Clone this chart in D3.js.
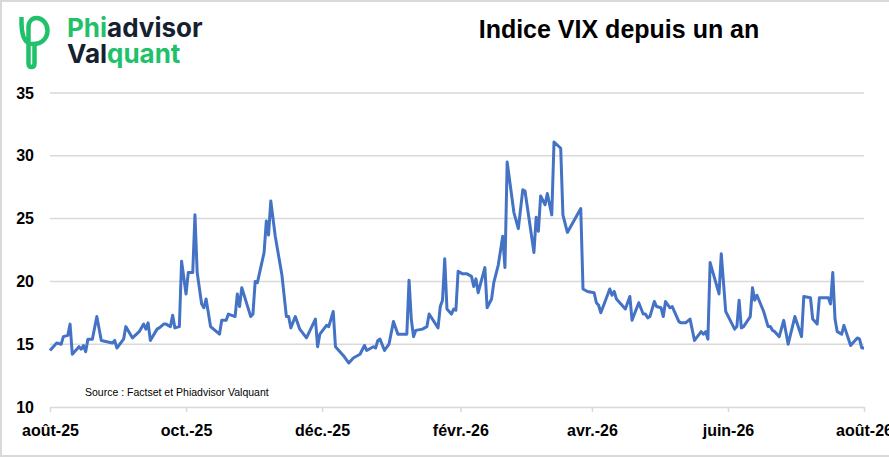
<!DOCTYPE html>
<html>
<head>
<meta charset="utf-8">
<script src="https://cdn.jsdelivr.net/npm/d3@7"></script>
<style>
    body { margin: 0; background: #fff; }
    svg { display: block; }
</style>
</head>
<body>
<script>
// daily VIX closes
const dates = [
    '2025-08-01', '2025-08-04', '2025-08-06', '2025-08-07', '2025-08-09', '2025-08-10', '2025-08-11', '2025-08-14', '2025-08-15', '2025-08-16',
    '2025-08-17', '2025-08-18', '2025-08-20', '2025-08-22', '2025-08-24', '2025-08-29', '2025-08-30', '2025-08-31', '2025-09-03', '2025-09-04',
    '2025-09-06', '2025-09-07', '2025-09-10', '2025-09-12', '2025-09-13', '2025-09-14', '2025-09-15', '2025-09-18', '2025-09-19', '2025-09-21',
    '2025-09-22', '2025-09-24', '2025-09-25', '2025-09-26', '2025-09-28', '2025-09-29', '2025-10-01', '2025-10-02', '2025-10-04', '2025-10-05',
    '2025-10-06', '2025-10-08', '2025-10-09', '2025-10-10', '2025-10-12', '2025-10-16', '2025-10-17', '2025-10-19', '2025-10-20', '2025-10-23',
    '2025-10-24', '2025-10-25', '2025-10-26', '2025-10-30', '2025-10-31', '2025-11-01', '2025-11-02', '2025-11-05', '2025-11-06', '2025-11-07',
    '2025-11-08', '2025-11-10', '2025-11-13', '2025-11-15', '2025-11-16', '2025-11-17', '2025-11-19', '2025-11-21', '2025-11-24', '2025-11-28',
    '2025-11-29', '2025-11-30', '2025-12-03', '2025-12-04', '2025-12-06', '2025-12-07', '2025-12-09', '2025-12-11', '2025-12-13', '2025-12-15',
    '2025-12-18', '2025-12-20', '2025-12-21', '2025-12-24', '2025-12-25', '2025-12-26', '2025-12-27', '2025-12-29', '2025-12-31', '2026-01-02',
    '2026-01-04', '2026-01-08', '2026-01-09', '2026-01-10', '2026-01-11', '2026-01-12', '2026-01-15', '2026-01-17', '2026-01-18', '2026-01-22',
    '2026-01-23', '2026-01-24', '2026-01-25', '2026-01-26', '2026-01-28', '2026-01-29', '2026-01-30', '2026-01-31', '2026-02-02', '2026-02-04',
    '2026-02-06', '2026-02-07', '2026-02-08', '2026-02-09', '2026-02-12', '2026-02-13', '2026-02-15', '2026-02-16', '2026-02-18', '2026-02-20',
    '2026-02-21', '2026-02-22', '2026-02-25', '2026-02-27', '2026-03-01', '2026-03-02', '2026-03-06', '2026-03-07', '2026-03-08', '2026-03-09',
    '2026-03-11', '2026-03-12', '2026-03-14', '2026-03-15', '2026-03-18', '2026-03-19', '2026-03-21', '2026-03-27', '2026-03-28', '2026-03-30',
    '2026-04-02', '2026-04-03', '2026-04-04', '2026-04-05', '2026-04-09', '2026-04-10', '2026-04-11', '2026-04-12', '2026-04-16', '2026-04-18',
    '2026-04-19', '2026-04-22', '2026-04-24', '2026-04-25', '2026-04-26', '2026-04-27', '2026-04-29', '2026-04-30', '2026-05-02', '2026-05-03',
    '2026-05-04', '2026-05-06', '2026-05-07', '2026-05-10', '2026-05-11', '2026-05-13', '2026-05-15', '2026-05-17', '2026-05-20', '2026-05-21',
    '2026-05-22', '2026-05-23', '2026-05-24', '2026-05-28', '2026-05-29', '2026-05-31', '2026-06-04', '2026-06-05', '2026-06-06', '2026-06-07',
    '2026-06-08', '2026-06-11', '2026-06-12', '2026-06-13', '2026-06-14', '2026-06-17', '2026-06-19', '2026-06-20', '2026-06-21', '2026-06-22',
    '2026-06-24', '2026-06-26', '2026-06-28', '2026-07-01', '2026-07-04', '2026-07-05', '2026-07-08', '2026-07-09', '2026-07-11', '2026-07-12',
    '2026-07-16', '2026-07-17', '2026-07-18', '2026-07-19', '2026-07-20', '2026-07-22', '2026-07-23', '2026-07-26', '2026-07-29', '2026-07-30',
    '2026-07-31', '2026-08-01'
];

const vix = [
    14.5, 15.1, 15.0, 15.6, 15.7, 16.6, 14.2, 14.8, 14.6, 14.9,
    14.4, 15.4, 15.4, 17.2, 15.3, 15.1, 15.3, 14.7, 15.4, 16.4,
    15.8, 15.5, 16.0, 16.6, 16.2, 16.7, 15.3, 16.2, 16.3, 16.6,
    16.6, 16.4, 17.3, 16.3, 16.4, 21.6, 19.0, 20.7, 20.7, 25.3,
    20.7, 18.2, 17.9, 18.6, 16.4, 15.8, 16.9, 16.9, 17.4, 17.2,
    19.0, 18.0, 19.5, 17.2, 17.4, 20.0, 19.9, 22.3, 24.8, 23.7,
    26.4, 23.6, 20.5, 17.2, 17.2, 16.3, 17.2, 16.2, 15.5, 17.0,
    14.8, 15.8, 16.5, 16.4, 17.6, 14.8, 14.4, 14.0, 13.5, 13.9,
    14.2, 14.9, 14.5, 14.8, 14.7, 15.3, 15.4, 14.5, 15.0, 16.8,
    15.8, 15.8, 20.1, 17.0, 15.6, 16.1, 16.2, 16.4, 17.4, 16.3,
    18.0, 18.5, 21.8, 17.8, 17.4, 17.8, 17.7, 20.8, 20.6, 20.6,
    20.4, 19.6, 20.2, 19.1, 21.1, 17.9, 18.6, 19.9, 21.3, 23.6,
    21.1, 29.5, 25.5, 24.2, 27.3, 27.2, 22.3, 25.1, 24.0, 26.8,
    26.1, 27.0, 25.3, 31.1, 30.6, 25.3, 23.9, 25.8, 19.4, 19.2,
    19.1, 18.3, 18.1, 17.5, 19.4, 18.9, 19.2, 18.6, 17.8, 18.8,
    16.9, 18.3, 17.4, 17.4, 17.1, 17.2, 18.4, 18.0, 17.9, 17.2,
    18.4, 17.9, 18.0, 16.8, 16.7, 16.7, 17.0, 15.3, 16.0, 15.8,
    16.0, 15.4, 21.5, 19.0, 22.2, 17.6, 16.2, 16.4, 18.5, 16.3,
    16.4, 17.2, 19.5, 18.5, 18.9, 17.6, 16.4, 16.4, 16.1, 16.0,
    15.6, 16.9, 15.0, 17.2, 15.6, 18.8, 18.7, 17.0, 16.6, 18.7,
    18.7, 18.2, 20.7, 17.0, 16.0, 15.8, 16.5, 14.9, 15.5, 15.4,
    14.7, 14.7
];

const tickDates = ['2025-08-01', '2025-10-01', '2025-12-01', '2026-02-01', '2026-04-01', '2026-06-01', '2026-08-01'];
const tickLabels = ['août-25', 'oct.-25', 'déc.-25', 'févr.-26', 'avr.-26', 'juin-26', 'août-26'];
const yTicks = [10, 15, 20, 25, 30, 35];

const width = 889;
const height = 457;
const marginTop = 93;
const marginLeft = 50;
const plotRight = 864;
const plotBottom = 407;

const parse = d3.utcParse('%Y-%m-%d');
const data = dates.map((d, i) => ({ date: parse(d), value: vix[i] }));

const svg = d3.select('body').append('svg')
    .attr('width', width)
    .attr('height', height);

// outer frame
svg.append('rect')
    .attr('x', 1)
    .attr('y', 1)
    .attr('width', width + 4)
    .attr('height', height - 2)
    .attr('fill', '#fff')
    .attr('stroke', '#d9d9d9')
    .attr('stroke-width', 2);

const x = d3.scaleUtc()
    .domain([parse(tickDates[0]), parse(tickDates[tickDates.length - 1])])
    .range([marginLeft, plotRight]);

const y = d3.scaleLinear()
    .domain([10, 35])
    .range([plotBottom, marginTop]);

// horizontal gridlines
svg.selectAll('line.grid')
    .data(yTicks.filter(d => d > 10))
    .enter()
    .append('line')
    .attr('class', 'grid')
    .attr('x1', marginLeft)
    .attr('x2', plotRight)
    .attr('y1', d => y(d))
    .attr('y2', d => y(d))
    .attr('stroke', '#d9d9d9')
    .attr('stroke-width', 1.5);

// x-axis
const xAxis = d3.axisBottom(x)
    .tickValues(tickDates.map(parse))
    .tickFormat((d, i) => tickLabels[i])
    .tickSize(5)
    .tickSizeOuter(0)
    .tickPadding(13);

svg.append('g')
    .attr('transform', `translate(0, ${plotBottom})`)
    .call(xAxis)
    .call(g => g.select('.domain').attr('stroke', '#d9d9d9').attr('stroke-width', 1.5))
    .call(g => g.selectAll('.tick line').attr('stroke', '#d9d9d9').attr('stroke-width', 1.5))
    .call(g => g.selectAll('.tick text')
        .attr('fill', '#000')
        .style('font', 'bold 16px "Liberation Sans", Arial, sans-serif'));

// y-axis
const yAxis = d3.axisLeft(y)
    .tickValues(yTicks)
    .tickSize(0)
    .tickPadding(16);

svg.append('g')
    .attr('transform', `translate(${marginLeft}, 0)`)
    .call(yAxis)
    .call(g => g.select('.domain').remove())
    .call(g => g.selectAll('.tick text')
        .attr('fill', '#000')
        .style('font', 'bold 16px "Liberation Sans", Arial, sans-serif'));

// VIX line
const line = d3.line()
    .x(d => x(d.date))
    .y(d => y(d.value));

svg.append('path')
    .datum(data)
    .attr('fill', 'none')
    .attr('stroke', '#4472c4')
    .attr('stroke-width', 3)
    .attr('stroke-linejoin', 'round')
    .attr('d', line);

// title
svg.append('text')
    .attr('x', 619)
    .attr('y', 38)
    .attr('text-anchor', 'middle')
    .style('font', 'bold 25px "Liberation Sans", Arial, sans-serif')
    .text('Indice VIX depuis un an');

// source
svg.append('text')
    .attr('x', 85)
    .attr('y', 396)
    .style('font', '10.5px "Liberation Sans", Arial, sans-serif')
    .text('Source : Factset et Phiadvisor Valquant');

// logo
const green = '#1fc16b';
const navy = '#14212e';

svg.append('path')
    .attr('d', 'M21.5 17 C21 35 24 44 33 44 C42 44 47.5 38 47.5 30.5 C47.5 23 42 18 36.5 18 C31.5 18 28.5 22 28.5 27 L28.5 63.5 Q28.5 67 31.5 67 Q34.5 67 34.5 63.5 L34.5 44')
    .attr('fill', 'none')
    .attr('stroke', green)
    .attr('stroke-width', 4.5)
    .attr('stroke-linejoin', 'round');

// two-colour words, drawn piece by piece
function logoWord(parts, x0, y0)
{
    let cx = x0;
    parts.forEach(([txt, color]) =>
    {
        const t = svg.append('text')
            .attr('x', cx)
            .attr('y', y0)
            .attr('fill', color)
            .style('font', '700 26px Inter, "Noto Sans", sans-serif')
            .text(txt);
        cx += t.node().getComputedTextLength();
    });
}

logoWord([['Phi', green], ['advisor', navy]], 67, 37);
logoWord([['Val', navy], ['quant', green]], 67, 63);
</script>
</body>
</html>
